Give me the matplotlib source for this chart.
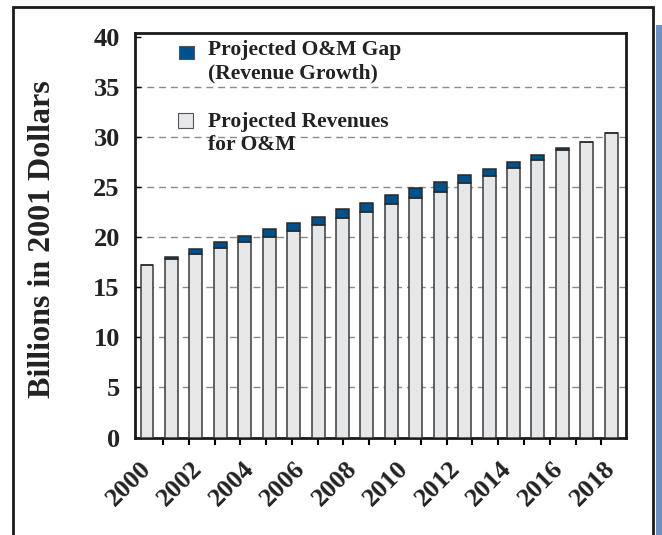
import matplotlib.pyplot as plt
from matplotlib.patches import Rectangle
import numpy as np

# Data (billions of 2001 dollars)
years = list(range(2000, 2020))
revenues = [17.2, 17.8, 18.3, 18.9, 19.5, 20.0, 20.6, 21.2, 21.9, 22.5,
            23.3, 23.9, 24.5, 25.4, 26.1, 26.9, 27.7, 28.7, 29.5, 30.4]
gap = [0.0, 0.2, 0.5, 0.6, 0.6, 0.8, 0.8, 0.8, 0.9, 0.9,
       0.9, 1.0, 1.0, 0.8, 0.7, 0.6, 0.5, 0.2, 0.0, 0.0]
year_labels = ['2000', '2002', '2004', '2006', '2008',
               '2010', '2012', '2014', '2016', '2018']

gray = '#e6e7e9'
blue = '#00508c'
serif = ['Liberation Serif', 'DejaVu Serif']

plt.rcParams['font.family'] = serif
plt.rcParams['font.weight'] = 'bold'

fig = plt.figure(figsize=(6.62, 5.35), dpi=100)
ax = fig.add_axes([0.204, 0.1822, 0.7415, 0.7561])

x = np.arange(len(years))
ax.bar(x, revenues, width=0.53, color=gray, edgecolor='#3a3a3a',
       linewidth=1.1, zorder=3)
ax.bar(x, gap, width=0.53, bottom=revenues, color=blue,
       edgecolor='#2a2a2a', linewidth=1.1, zorder=3)

ax.set_xlim(-0.49, 19.6)
ax.set_ylim(0, 40.4)
ax.set_yticks(range(0, 45, 5))
ax.tick_params(axis='y', direction='in', length=4, width=1,
               labelsize=19, pad=11, labelcolor='#222222')

# year labels spread evenly across the bars, as in the original
ax.set_xticks(np.linspace(0, len(years) - 1, len(year_labels)))
ax.set_xticklabels(year_labels, rotation=45, ha='right', va='center',
                   rotation_mode='anchor', fontsize=19, fontweight='bold',
                   color='#222222')
ax.tick_params(axis='x', length=0, pad=20)
ax.set_xticks(np.linspace(0.65, 18.6, 18), minor=True)
ax.tick_params(axis='x', which='minor', direction='out', length=5, width=1.5)

ax.yaxis.grid(True, linestyle=(0, (5, 3.5)), color='#8a8a8a',
              linewidth=1.0, zorder=0)
ax.get_ygridlines()[-1].set_visible(False)
ax.set_axisbelow(True)
for s in ax.spines.values():
    s.set_linewidth(2.0)
    s.set_color('#1a1a1a')

ax.set_ylabel('Billions in 2001 Dollars', fontsize=23, fontweight='bold',
              color='#222222')
ax.yaxis.set_label_coords(-0.159, 0.49)

# legend drawn by hand so the keys sit on the first text line
ax.add_patch(Rectangle((0.0896, 0.936), 0.0305, 0.032, transform=ax.transAxes,
                       facecolor=blue, edgecolor='#555555', lw=0.8,
                       clip_on=False, zorder=5))
ax.text(0.148, 0.982, 'Projected O&M Gap\n(Revenue Growth)',
        transform=ax.transAxes, fontsize=15.5, fontweight='bold',
        va='top', ha='left', linespacing=1.2, color='#222222', zorder=5)
ax.add_patch(Rectangle((0.0875, 0.765), 0.0305, 0.037, transform=ax.transAxes,
                       facecolor=gray, edgecolor='#555555', lw=0.8,
                       clip_on=False, zorder=5))
ax.text(0.148, 0.804, 'Projected Revenues\nfor O&M',
        transform=ax.transAxes, fontsize=15.5, fontweight='bold',
        va='top', ha='left', linespacing=1.2, color='#222222', zorder=5)

# outer frame and the blue strip on the right edge
fig.patches.append(Rectangle((13 / 662, -0.05), 640 / 662, 1.05 - 7 / 535,
                             transform=fig.transFigure, fill=False,
                             edgecolor='#1a1a1a', linewidth=2.0))
fig.patches.append(Rectangle((656 / 662, 0), 6 / 662, 1 - 25 / 535,
                             transform=fig.transFigure, facecolor='#6e8fc0',
                             edgecolor='none'))

fig.savefig('out.png', dpi=100)
